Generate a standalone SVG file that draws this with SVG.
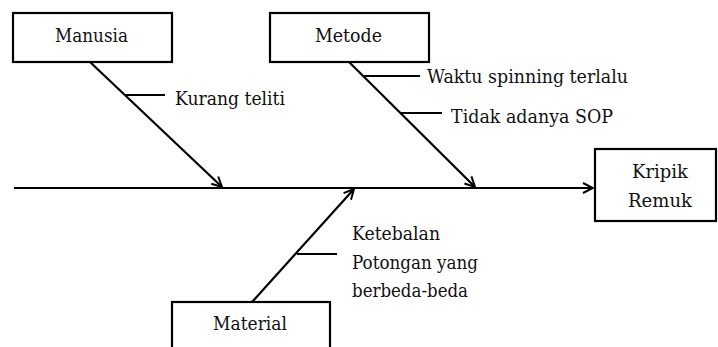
<svg xmlns="http://www.w3.org/2000/svg" width="718" height="347" viewBox="0 0 718 347">
<style>
.box{fill:#fff;stroke:#000;stroke-width:2.2}
.ln{stroke:#000;stroke-width:2.2;fill:none}
text{font-family:'DejaVu Serif',serif;font-size:18.5px;fill:#111}
</style>
<defs>
<marker id="arr" viewBox="0 0 12 12" refX="11" refY="6" markerWidth="12" markerHeight="12" markerUnits="userSpaceOnUse" orient="auto">
<path d="M1,1 L11,6 L1,11" fill="none" stroke="#000" stroke-width="2"/>
</marker>
</defs>
<g id="connectors">
<line class="ln" x1="14" y1="188" x2="593" y2="188" marker-end="url(#arr)"/>
<line class="ln" x1="90" y1="62" x2="222" y2="187" marker-end="url(#arr)"/>
<line class="ln" x1="125" y1="95" x2="165" y2="95"/>
<line class="ln" x1="349" y1="62" x2="475" y2="187" marker-end="url(#arr)"/>
<line class="ln" x1="363" y1="76" x2="420" y2="76"/>
<line class="ln" x1="400" y1="113" x2="442" y2="113"/>
<line class="ln" x1="252" y1="302" x2="354" y2="189" marker-end="url(#arr)"/>
<line class="ln" x1="297" y1="254" x2="337" y2="254"/>
</g>
<g id="manusia">
<rect class="box" x="13" y="13" width="159" height="49"/>
<text x="55" y="42" textLength="73" lengthAdjust="spacingAndGlyphs">Manusia</text>
</g>
<g id="metode">
<rect class="box" x="270" y="13" width="159" height="49"/>
<text x="315" y="42" textLength="67" lengthAdjust="spacingAndGlyphs">Metode</text>
</g>
<g id="material">
<rect class="box" x="172" y="302" width="158" height="50"/>
<text x="213" y="330" textLength="74" lengthAdjust="spacingAndGlyphs">Material</text>
</g>
<g id="kripik">
<rect class="box" x="595" y="149" width="121" height="72"/>
<text x="632" y="178" textLength="56" lengthAdjust="spacingAndGlyphs">Kripik</text>
<text x="628" y="207" textLength="64" lengthAdjust="spacingAndGlyphs">Remuk</text>
</g>
<g id="labels">
<text x="175" y="105" textLength="110" lengthAdjust="spacingAndGlyphs">Kurang teliti</text>
<text x="427" y="83" textLength="201" lengthAdjust="spacingAndGlyphs">Waktu spinning terlalu</text>
<text x="451" y="123" textLength="162" lengthAdjust="spacingAndGlyphs">Tidak adanya SOP</text>
<text x="352" y="240" textLength="88" lengthAdjust="spacingAndGlyphs">Ketebalan</text>
<text x="352" y="269" textLength="126" lengthAdjust="spacingAndGlyphs">Potongan yang</text>
<text x="352" y="297" textLength="116" lengthAdjust="spacingAndGlyphs">berbeda-beda</text>
</g>
</svg>
